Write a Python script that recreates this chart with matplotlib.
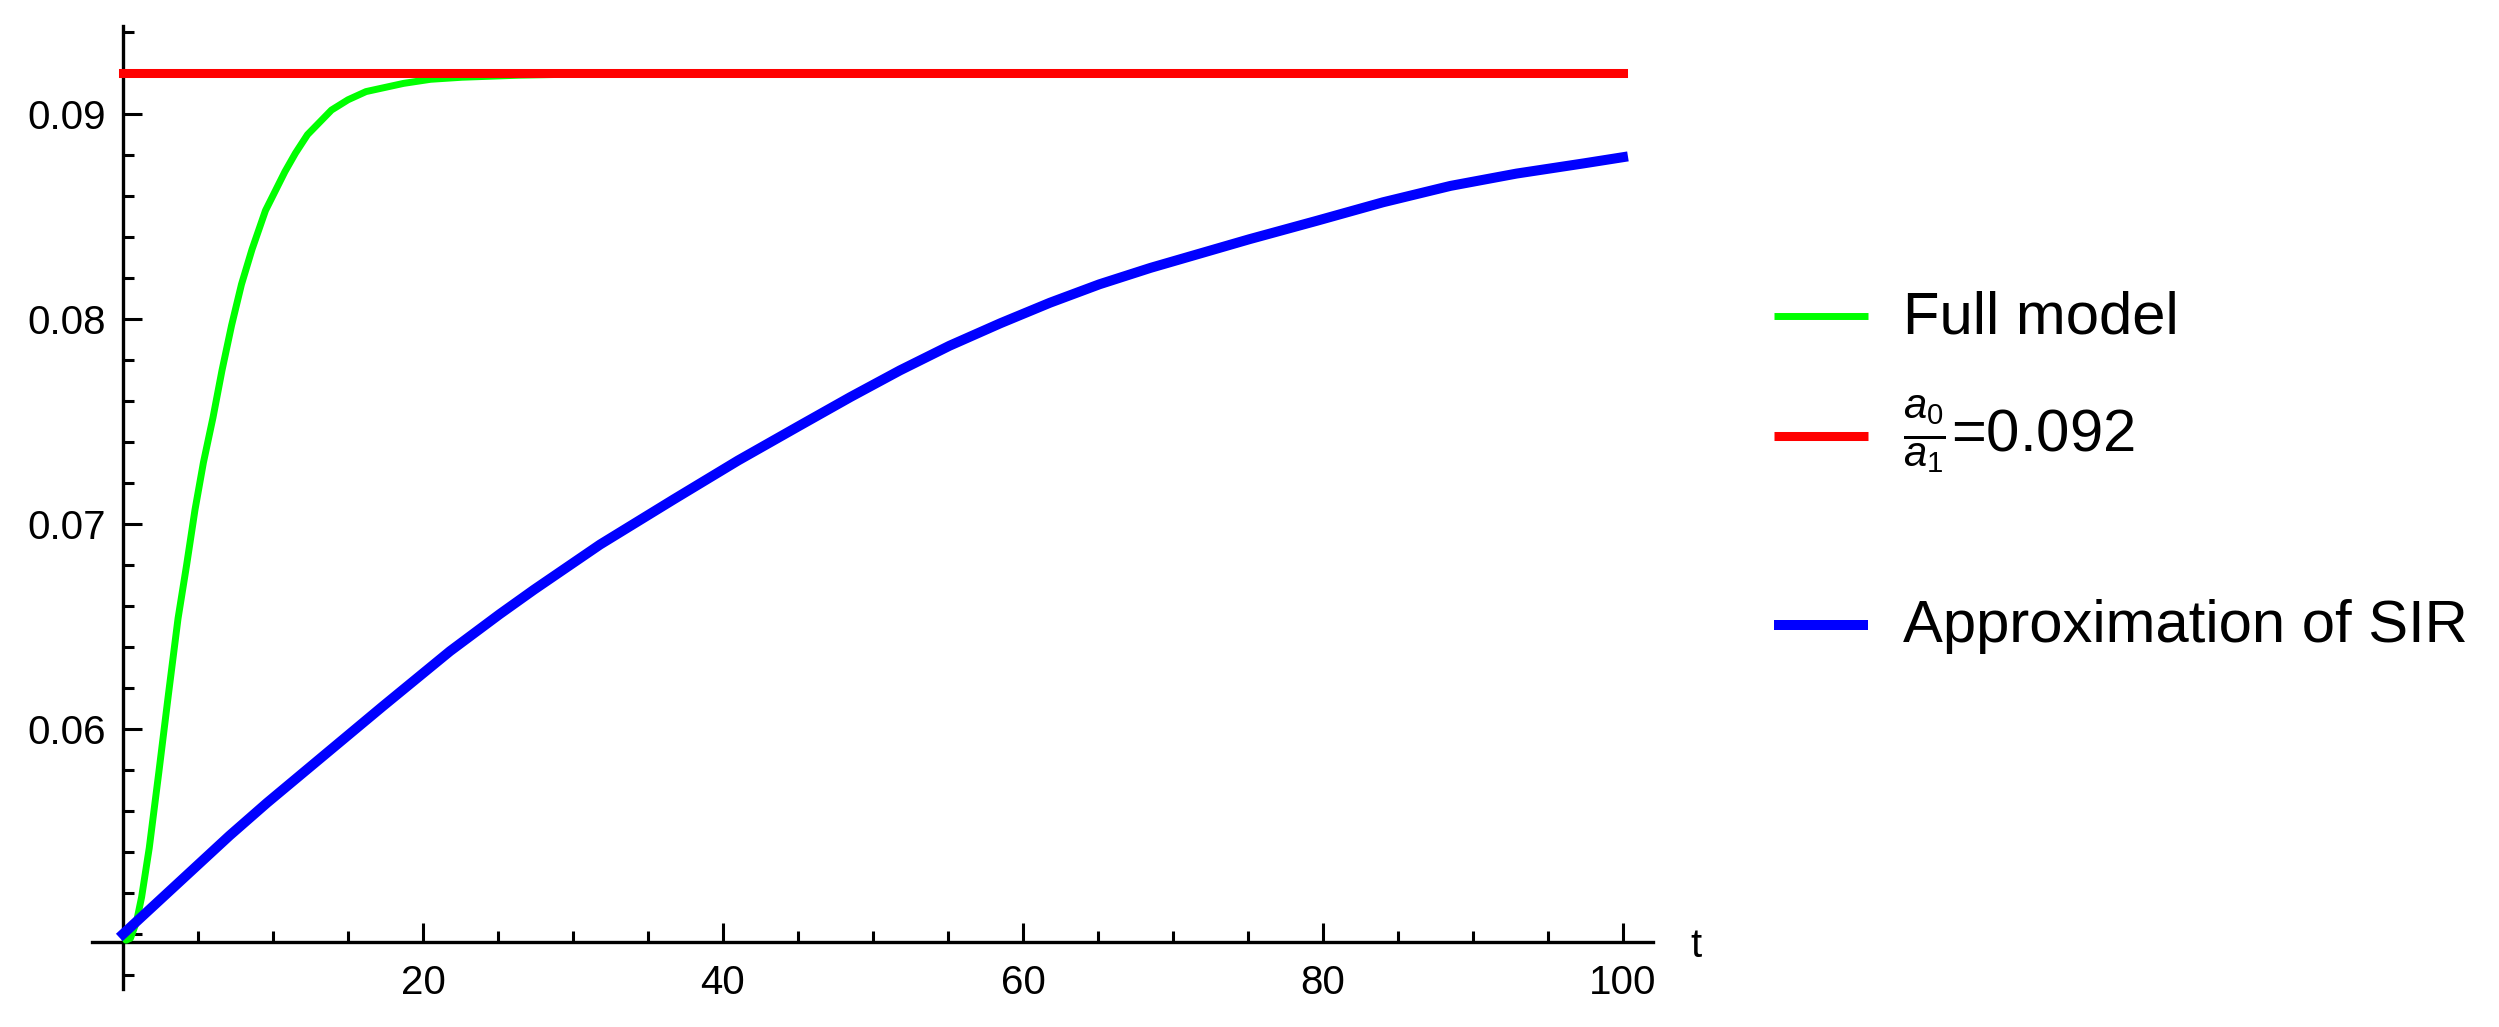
import matplotlib
matplotlib.use("Agg")
import matplotlib.pyplot as plt
from matplotlib.lines import Line2D
from matplotlib.ticker import FixedLocator

plt.rcParams["font.family"] = ["Liberation Sans", "DejaVu Sans"]
plt.rcParams["mathtext.fontset"] = "custom"
plt.rcParams["mathtext.rm"] = "Liberation Sans"
plt.rcParams["mathtext.it"] = "Liberation Sans:italic"

# data
t_full = [0, 0.2, 0.5, 0.9, 1.24, 1.75, 2.39, 3.03, 3.67, 4.24, 4.8, 5.36,
          6.0, 6.6, 7.24, 7.9, 8.6, 9.5, 10.8, 11.5, 12.3, 13.9, 15.0, 16.2,
          18.7, 20.5, 22.6, 26.4, 30, 40, 100]
y_full = [0.0500, 0.0497, 0.0498, 0.0506, 0.0518, 0.0542, 0.0579, 0.0617,
          0.0654, 0.0680, 0.0707, 0.0730, 0.0752, 0.0775, 0.0797, 0.0817,
          0.0834, 0.0853, 0.0872, 0.0881, 0.0890, 0.0902, 0.0907, 0.0911,
          0.0915, 0.0917, 0.0918, 0.0919, 0.09195, 0.0920, 0.0920]

t_sir = [0, 7.1, 9.6, 17.3, 21.8, 25.1, 27.4, 31.8, 36.7, 41.0, 45.1, 48.5,
         51.8, 55.1, 58.5, 61.8, 65.1, 68.5, 71.8, 75.1, 79.6, 84.0, 88.5,
         92.9, 97.4, 100]
y_sir = [0.0500, 0.0548, 0.0564, 0.0611, 0.0638, 0.0656, 0.0668, 0.0690,
         0.0712, 0.0731, 0.0748, 0.0762, 0.0775, 0.0787, 0.0798, 0.0808,
         0.0817, 0.0825, 0.0832, 0.0839, 0.0848, 0.0857, 0.0865, 0.0871,
         0.0876, 0.0879]

t_ratio = [0, 100]
y_ratio = [0.092, 0.092]

labels = ["Full model", r"$\frac{a_0}{a_1}$=0.092", "Approximation of SIR"]
colors = ["#00FF00", "#FF0000", "#0000FF"]
widths = [5.0, 6.5, 7.2]

x_major = [20, 40, 60, 80, 100]
x_minor = [5, 10, 15, 25, 30, 35, 45, 50, 55, 65, 70, 75, 85, 90, 95]
y_major = [0.05, 0.06, 0.07, 0.08, 0.09]
y_major_labels = ["", "0.06", "0.07", "0.08", "0.09"]
y_minor = [0.048, 0.052, 0.054, 0.056, 0.058, 0.062, 0.064, 0.066, 0.068,
           0.072, 0.074, 0.076, 0.078, 0.082, 0.084, 0.086, 0.088, 0.092, 0.094]

W, H = 2499, 1027
fig = plt.figure(figsize=(W / 100, H / 100), dpi=100)
ax = fig.add_axes([91.5 / W, 37.6 / H, 1561.5 / W, 963.4 / H])

ax.plot(t_full, y_full, color=colors[0], lw=widths[0], zorder=3)
ax.plot(t_ratio, y_ratio, color=colors[1], lw=widths[1], zorder=4)
ax.plot(t_sir, y_sir, color=colors[2], lw=widths[2], zorder=5)

ax.set_xlim(-2.1, 102.0)
ax.set_ylim(0.0473, 0.0943)

for side in ["top", "right"]:
    ax.spines[side].set_visible(False)
ax.spines["left"].set_position(("data", 0))
ax.spines["bottom"].set_position(("data", 0.0496))
for side in ["left", "bottom"]:
    ax.spines[side].set_linewidth(2.4)
    ax.spines[side].set_zorder(2)

ax.set_xticks(x_major)
ax.set_xticklabels([str(v) for v in x_major])
ax.xaxis.set_minor_locator(FixedLocator(x_minor))
ax.set_yticks(y_major)
ax.set_yticklabels(y_major_labels)
ax.yaxis.set_minor_locator(FixedLocator(y_minor))

ax.tick_params(which="both", direction="in", width=2.2, labelsize=29)
ax.tick_params(which="major", length=13.7)
ax.tick_params(which="minor", length=8)
ax.tick_params(axis="x", pad=16)
ax.tick_params(axis="y", pad=12)

ax.set_xlabel("t", fontsize=29)
ax.xaxis.set_label_coords(1.024, (0.04888 - 0.0473) / 0.047)
ax.xaxis.label.set_horizontalalignment("left")
ax.xaxis.label.set_verticalalignment("baseline")

# legend drawn by hand, outside the plot on the right
handle_y = [316, 436, 625]
text_base = [333, 453, 642]
for lab, col, lw, hy, by in zip(labels, colors, widths, handle_y, text_base):
    fig.add_artist(Line2D([1774 / W, 1868 / W], [1 - hy / H, 1 - hy / H],
                          transform=fig.transFigure, color=col, lw=lw,
                          solid_capstyle="butt"))
    fig.text(1903 / W, 1 - by / H, lab, fontsize=43, ha="left", va="baseline")

fig.savefig("out.png", dpi=100, facecolor="white")
